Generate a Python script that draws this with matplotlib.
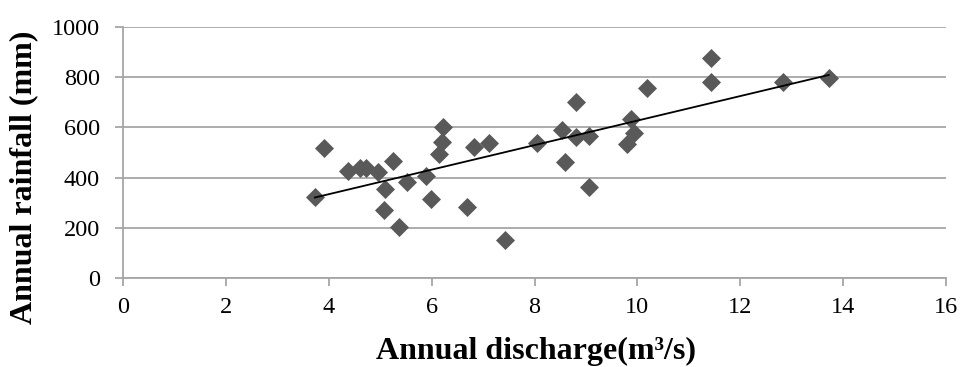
import numpy as np
import matplotlib
matplotlib.use("Agg")
import matplotlib.pyplot as plt

plt.rcParams['font.family'] = ['Liberation Serif', 'DejaVu Serif']

# Annual discharge (m3/s) and annual rainfall (mm)
discharge = [3.73, 3.91, 4.38, 4.61, 4.72, 4.96, 5.24, 5.10, 5.08, 5.37,
             5.53, 5.90, 5.99, 6.14, 6.20, 6.23, 6.69, 6.82, 7.12, 7.42,
             8.05, 8.54, 8.60, 8.80, 8.80, 9.05, 9.05, 9.79, 9.87, 9.94,
             10.19, 11.44, 11.44, 12.83, 13.72]
rainfall = [324, 519, 427, 437, 437, 423, 466, 355, 270, 202,
            382, 405, 316, 493, 540, 600, 284, 523, 539, 151,
            537, 590, 461, 563, 702, 361, 566, 532, 632, 579,
            756, 782, 878, 780, 798]

x_ticks = [0, 2, 4, 6, 8, 10, 12, 14, 16]
y_ticks = [0, 200, 400, 600, 800, 1000]

W, H = 963, 367
fig = plt.figure(figsize=(W / 100, H / 100), dpi=100)
ax = fig.add_axes([123 / W, 1 - 278 / H, (946 - 123) / W, (278 - 27) / H])

grid_c = '#a6a6a6'
ax.set_xlim(0, 16)
ax.set_ylim(0, 1000)
ax.set_xticks(x_ticks)
ax.set_yticks(y_ticks)
ax.yaxis.grid(True, color=grid_c, linewidth=1.3)
ax.set_axisbelow(True)

for s in ['top', 'right']:
    ax.spines[s].set_visible(False)
for s in ['left', 'bottom']:
    ax.spines[s].set_color(grid_c)
    ax.spines[s].set_linewidth(1.3)
ax.tick_params(axis='both', direction='out', length=5.8, width=1.3, color=grid_c,
               labelsize=17.5)
ax.tick_params(axis='y', pad=11)
ax.tick_params(axis='x', pad=8)

ax.scatter(discharge, rainfall, marker='D', s=9.7 ** 2, color='#595959',
           linewidths=0, zorder=3, clip_on=False)

# Linear trend line over the data range
coef = np.polyfit(discharge, rainfall, 1)
xs = np.array([min(discharge), max(discharge)])
ax.plot(xs, np.polyval(coef, xs), color='black', linewidth=1.3, zorder=4)

fig.text(535.5 / W, 1 - 359 / H, 'Annual discharge(m³/s)', fontsize=23,
         fontweight='bold', ha='center', va='baseline')
fig.text(24 / W, 1 - 177 / H, 'Annual rainfall (mm)', fontsize=23,
         fontweight='bold', ha='center', va='center', rotation=90)

fig.savefig('out.png', dpi=100)
